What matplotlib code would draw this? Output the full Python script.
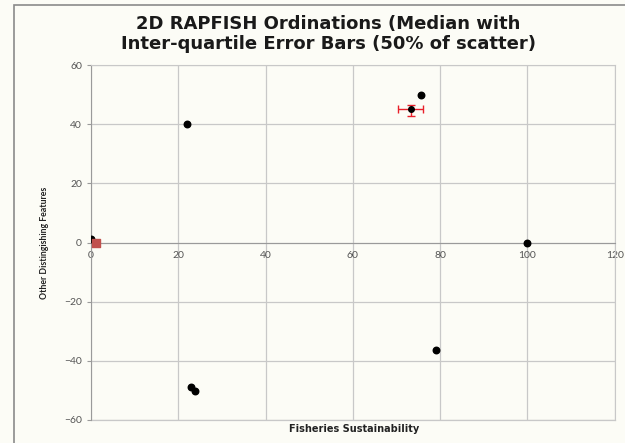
import matplotlib.pyplot as plt
from matplotlib.patches import Rectangle

# ordination scores (median)
x_pts = [0, 22, 75.7, 100, 79, 23, 23.8]
y_pts = [1.3, 40.2, 50, 0, -36.5, -49, -50.3]

# reference point and its inter-quartile error bar
ref_x, ref_y = 1.2, 0
med_x, med_y = 73.4, 45.2
x_err_lo, x_err_hi = 70.3, 76.0
y_err_lo, y_err_hi = 42.9, 46.6

x_ticks = [0, 20, 40, 60, 80, 100, 120]
y_ticks = [-60, -40, -20, 0, 20, 40, 60]

bg = '#fcfcf6'
grid_c = '#c8c8c8'
plt.rcParams['font.family'] = ['Lato', 'DejaVu Sans']

fig = plt.figure(figsize=(6.25, 4.43), dpi=100, facecolor=bg)
fig.patches.append(Rectangle((0.022, -0.01), 0.99, 0.998, transform=fig.transFigure,
                             fill=False, edgecolor='#8a8a8a', lw=1.2))

ax = fig.add_axes([0.1456, 0.052, 0.838, 0.801], facecolor=bg)
ax.set_xlim(0, 120)
ax.set_ylim(-60, 60)
ax.set_xticks(x_ticks)
ax.set_yticks(y_ticks)
ax.grid(True, color=grid_c, lw=0.9)
ax.set_axisbelow(True)
ax.axhline(-60, color=grid_c, lw=0.9, clip_on=False)

for s in ['top', 'right']:
    ax.spines[s].set_color(grid_c)
ax.spines['left'].set_position(('data', 0))
ax.spines['bottom'].set_position(('data', 0))
ax.spines['left'].set_color('#9a9a9a')
ax.spines['bottom'].set_color('#9a9a9a')
ax.tick_params(axis='both', colors='#9a9a9a', labelcolor='#555555', labelsize=7.5,
               length=3)
ax.tick_params(axis='x', length=0, pad=6)

ax.scatter(x_pts, y_pts, s=22, color='black', marker='o', zorder=3)
ax.scatter([ref_x], [ref_y], s=34, color='#c0504d', marker='s', zorder=3)
ax.errorbar([med_x], [med_y],
            xerr=[[med_x - x_err_lo], [x_err_hi - med_x]],
            yerr=[[med_y - y_err_lo], [y_err_hi - med_y]],
            fmt='o', color='black', ms=4, ecolor='#e8202a', elinewidth=1,
            capsize=3, zorder=4)

ax.set_xlabel('Fisheries Sustainability', fontsize=7, fontweight='bold',
              family=['DejaVu Sans'], color='#222222')
ax.set_ylabel('Other Distingishing Features', fontsize=6.3, fontweight='bold', color='#222222')
ax.yaxis.set_label_coords(-0.08, 0.5)
ax.xaxis.set_label_coords(0.502, -0.012)

fig.text(0.525, 0.923, '2D RAPFISH Ordinations (Median with\nInter-quartile Error Bars (50% of scatter)',
         ha='center', va='center', fontsize=13, fontweight='bold', color='#1a1a1a',
         family=['DejaVu Sans'], linespacing=1.12)

fig.savefig('out.png', dpi=100, facecolor=bg)
